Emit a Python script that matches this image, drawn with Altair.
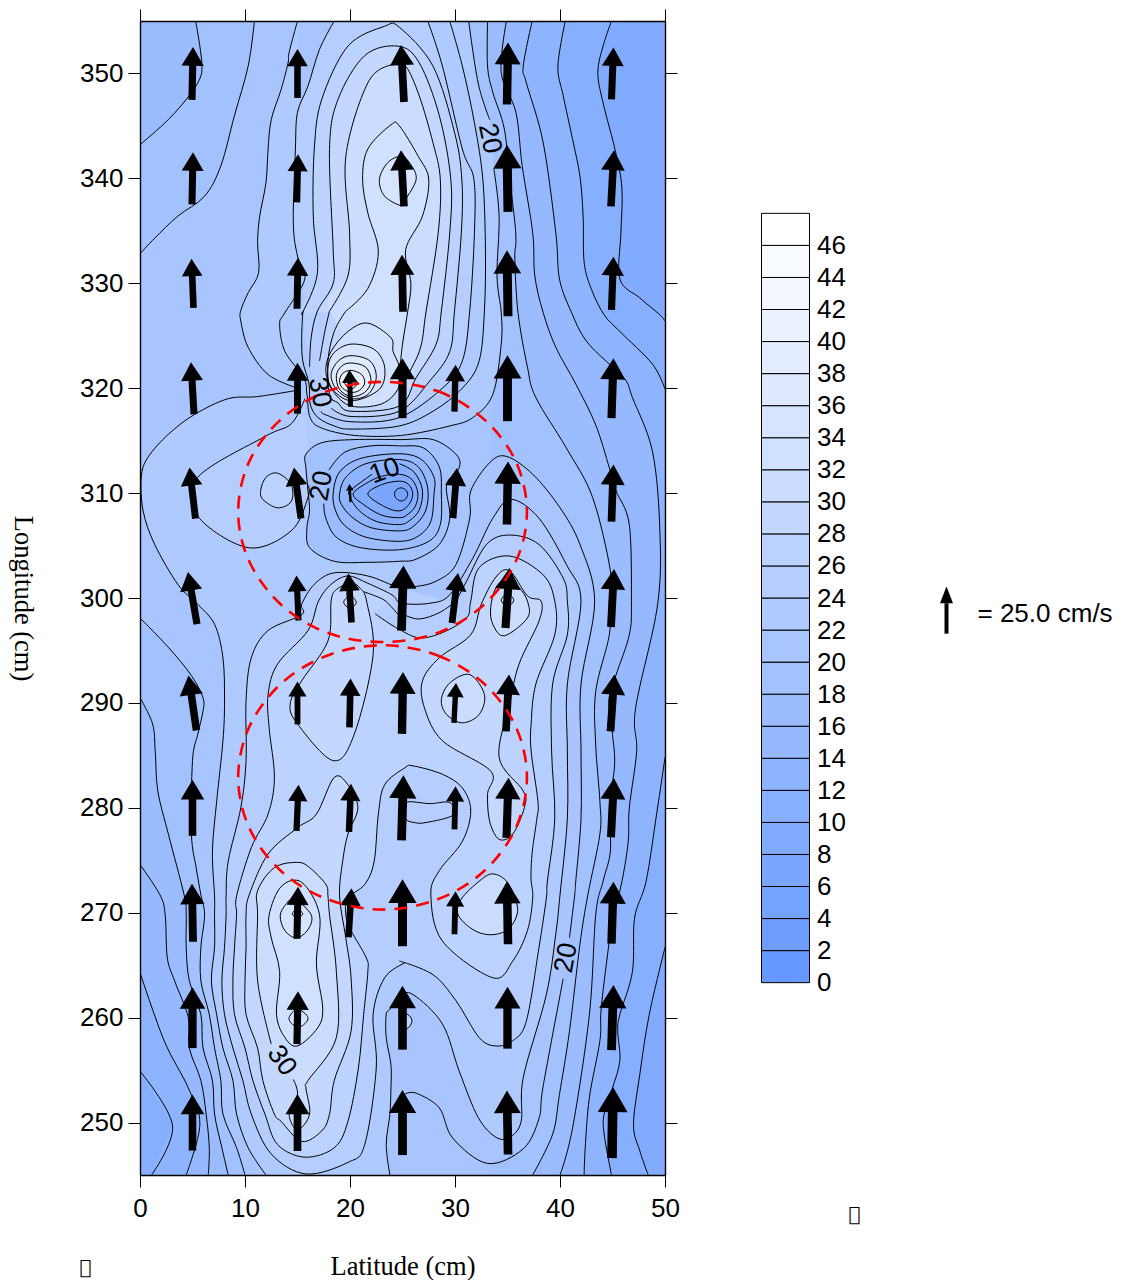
import math
import altair as alt
import pandas as pd

# ---------- contour lines (x cm, y cm) ----------
R10 = [(44.9,355),(44.1,352.6),(43.6,350.1),(44.1,347.2),(45.3,342.5),(45.9,339),(45.8,334.8),(45.7,330.4),(47.6,328.6),(49.5,327),(50,326.4)]
R10B = [(50,266.7),(48.5,260.3),(47.6,254.6),(47,249.8),(47.6,247.3),(48.4,245)]
R12 = [(40.5,355),(39.8,350.7),(40.3,347.9),(41.2,343.7),(41.9,340.2),(42.2,336.4),(42.3,332),(43,329.4),(44.2,327),(45.7,325.4),(48.8,322.3),(50,319.9)]
R12B = [(50,284.8),(49.2,279.4),(48.2,273),(47.1,269.5),(46.9,264.4),(45.7,260.3),(45.5,258.7),(45.7,255.9),(45,253.3),(44.2,250.8),(44.2,248.9),(44.9,245)]
R14 = [(37.35,355),(36.5,350.7),(36.8,349.1),(38.4,343.4),(39.6,334.8),(39.95,330.4),(41.1,327.2),(42.5,324.5),(45,322),(46.3,320.7),(46.9,319.1),(48.8,314),(49.5,306.7),(49.3,299.4),(47.2,289.5),(47.3,285.4),(46.6,280),(46.5,276.8),(45.9,273),(45,269.2),(44.4,265),(43.9,260.6),(43.8,257.8),(42.8,252.4),(42.4,247.6),(42.3,245)]
R16 = [(34.9,355),(34.4,350.1),(35.8,346.3),(36.4,341.2),(37.4,334.8),(37.6,330.7),(38.4,327.2),(39.6,323.9),(41.5,320.4),(43.4,316.5),(44.7,312.4),(45.35,310.2),(46.6,307),(46.8,299.7),(46.6,296.5),(45.35,292.7),(44.65,290.2),(45,287),(45.2,284.1),(44.7,280),(44.8,275.9),(44.1,273),(43.4,269.8),(42.8,260.3),(41.2,249.5),(40,245)]
R18 = [(33.1,355),(33.1,350.7),(33.6,348.2),(34.7,344.7),(35.2,340),(35.7,335.8),(35.8,333.9),(35.7,332.3),(36,327.2),(36.9,322),(37.7,319.1),(40.6,314.3),(43.1,309.6),(44.8,302.6),(44.7,299.7),(44.7,296.5),(43.4,291.1),(43.4,286),(43.8,280.6),(43.8,277.5),(42.65,271.7),(41.9,267),(40.9,258.7),(39.95,252.7),(39.3,248.9),(37.4,245)]
R20_TOP = [(31.3,355),(32.2,349.1),(33.3,345.6)]
R20_MID = [(33.7,340.9),(34.2,336.4),(34,330.7),(34.4,327.2),(34.4,324.2),(33.6,319.4),(31.7,317.2),(29.5,316.4),(24.9,315.5),(20.4,315.5),(17.3,316.2),(16.2,317.2),(15.9,319.4),(15.6,321),(13.8,323.5),(13.3,326.1),(13.8,327.2),(15.7,330.4),(15,332.6),(14.6,335.8),(14.8,342.8),(15,346.3),(16,348.8),(17.1,352.3),(18.5,355)]
L18A = [(5.3,355),(5.7,352.6),(5.9,350.7),(5.7,349.5),(4.7,347.9),(2.7,345.6),(0,343.2)]
L20A = [(10.9,355),(10.3,350.7),(9,346),(7.7,341.2),(6.15,338.3),(3.6,336.4),(1.4,334.3),(0,332.8)]
L22_UP = [(15,355),(14.2,352),(14.1,351),(13.45,348.5),(12.5,345.6),(12.2,342.8),(12,339.6),(11.4,336.4),(11.2,333.9),(11.3,331),(10.3,329.1),(9.6,327.4),(9.6,326.4),(10.3,323.9),(12.2,321.3),(15,320)]
BIG_LOOP = [(15,319.8),(11.2,319.2),(8.4,319),(5.2,317.5),(2.7,315.6),(0.75,313.4),(0.12,311.5),(0.3,308.3),(1.4,305.1),(3.6,301.3),(5.2,299.7),(5.5,299.4),(7.1,297.5),(7.9,294.3),(8.05,290.2),(7.9,286.4),(7.3,280.6),(6.9,275.9),(7.1,271.6),(7.1,269.8),(7.1,266.7),(6.8,263.5),(7.3,260.3),(7.9,257.1),(8.85,254),(9.2,250.8),(10.3,247.6),(12,245)]
L20B = [(0,298.1),(2.7,295.3),(4.9,292.6),(6,290.5),(6,289.2),(5.5,287),(5,284.5),(4.9,277.5),(5.35,274.3),(5.8,271.7),(6.15,269.8),(5.8,266.7),(5.8,263.5),(6.6,260.3),(7.1,257.1),(7.7,254),(7.9,250.8),(9.2,247.6),(10,245)]
L18B = [(0,290.5),(1.2,288),(1.45,285.4),(1.7,281.6),(2.7,277.5),(4.2,271.7),(4.4,269.8),(4.4,266.7),(4.7,263.5),(5.8,260.3),(6,257.1),(6.9,254),(7.1,250.8),(7.8,247.6),(8.4,245)]
L16 = [(0,274.6),(1.9,271.7),(2.4,269.8),(2.6,265.7),(3.3,263.5),(4.6,260),(4.7,257.1),(5.8,254),(6.3,250.8),(6.6,247.6),(6.5,245)]
L14 = [(0,264.3),(2.3,257.8),(4.6,253.3),(5.7,249.8),(4.4,245)]
L12 = [(0,254.9),(3.1,249.7),(1.1,245)]

P_S = [(23.8,245),(23.45,247.9),(23.8,250.8),(23.9,253.3),(23.9,255.5),(23.45,258.1),(23.45,260.3),(23.8,260.8),(24.7,262),(26,262.2),(28.8,259.4),(30.4,254.9),(32.2,250.5),(33.9,248.6),(35.2,248.6),(36.3,250.1),(36.5,254.3),(38.7,262.2),(39.6,268),(40,271.7),(40.7,279),(40.7,285.4),(40.7,291.8),(42,299.7)]
DARC_R = [(40.6,303.2),(38,307.6),(35.35,309.4),(33.6,307.6),(31.7,303.8),(29.5,300.3),(27.6,299.5),(24.9,299.5)]
DARC_L = [(24,300.3),(21.7,301.4),(19.8,302.1),(18.2,301.3),(17,299.7),(16,296.9),(13.1,293.7),(12.2,290.8),(12.3,287.6),(12.8,282.9),(12.2,279.4),(10.6,276.2),(9.2,271.6),(9.2,269.8),(9,266.7),(8.85,263.5),(9,260.3),(10,257.1),(10.75,254),(11.9,250.8),(13.1,247.9),(15.7,246.7),(18.5,247.6),(19.8,250.1),(20.8,255.2),(21.3,260.3),(21.7,264.4),(21.55,265.7),(20.1,268.3),(19.6,269.8),(19.8,271.4),(21.4,272.7),(22.3,274.9),(22.7,279.4),(23.3,282.2),(25.2,283.8),(26,284),(28.8,283.2),(30.7,281.9),(31.5,279.7),(30.7,276.8),(28.5,274),(27.7,271.7),(28.8,267.3),(33.6,263.8),(35.5,265.4),(36.9,268.3),(37.4,271.4),(37.25,273),(37.25,274.3),(37.4,276.2),(37.8,279),(37.9,280.6),(37.25,285.4),(37.25,288),(37.7,291.8),(39.5,296.5),(39.5,299.7),(38.4,302.2),(35.2,304),(32.3,302.9),(31.5,299.7),(31.1,298.1),(28.8,296.7),(26.6,296.2),(24.7,297),(23.4,297.8),(22.4,298.5)]
SADDLE_LOOP = [(21.6,299.6),(22.2,294.6),(20.4,287),(18.4,284.5),(15,288),(14.3,289.9),(15.4,292.1),(17.9,295.9),(18.2,299.7),(18.7,300.8),(20.1,301.4),(21,300.9)]
SADDLE_TAIL = [(21.3,300.6),(23.1,299.9),(23.9,299.2),(24.9,298.1),(25,298.4),(26.6,298),(28.5,298.6),(30.1,299.7)]
P_C = [(30.1,299.7),(31.1,301.6),(33,305.1),(35.2,306),(38,305.1),(40.3,301.9),(40.7,299.7),(40.7,296.5),(39.3,291.8),(39.2,285.4),(39.5,279),(38.8,273),(38.7,271.4),(38,266.7),(36.8,259.7),(35.5,257.8),(33.9,257.3),(32.3,258.1),(30.1,261.6),(27.9,264.1),(24.7,265.4)]
L24_LOW = [(25.2,265.2),(23.3,263.8),(22.2,260.3),(22.5,255.2),(21.4,247.9),(19.8,246.2),(15.8,245.1),(12.5,247),(10.6,250.8),(9.8,254),(8.85,257.1),(8.05,260.3),(7.8,263.5),(8.05,266.7),(8.2,269.8)]
E_L = [(8.2,271.6),(8.4,274.9),(9.6,280),(10.1,284.5),(10.1,290.2),(10.6,294.3),(12.2,296.9),(15.4,298.4),(15.4,299.4),(16.6,301.3),(18.5,302.4),(21.7,302.1),(24.7,301)]
E_R = [(26.3,301.1),(28.2,301.6),(30.1,303.2),(31.4,307.6),(31.5,310.2),(33.3,312.9),(34.9,313.5),(37.4,311.8),(40,308.6),(41.9,305.1),(43.3,299.7),(42,291.8),(42,285.4),(42,279),(41.5,273),(41.4,271.7),(40.9,267.6)]
E_LOW = [(40.3,263.7),(38.4,253.5),(38,250.4),(36.5,247.5),(33.1,246.1),(29.8,248.5),(28.5,251.4),(26.3,252.8),(25.2,252.7)]

# top tongue
RIGHT_22 = [(29.5,355),(30.7,350.7),(31.85,345.3),(32.65,339.9),(32.9,333.2),(32.8,327.35),(32.3,322.6),(30.7,320),(27.9,317.8),(24.7,316.4),(20.1,316.1),(18.5,316.4),(16.95,317.2),(16.2,318.5),(16.1,320.4),(15.5,322.6),(15.4,324.8),(15.5,327.2)]
ARC_A = [(16.9,331),(16.5,336.4),(16.6,342.8),(17.3,347.5),(19.8,352.6),(23.3,354.5),(24.7,354.4),(27.9,350.7),(29.95,344.4),(30.65,339.9),(30.6,334.8),(29.95,327.35),(29.5,323.5),(27.6,320.7),(24.7,317.8),(20.1,317.3),(18.2,318.1)]
ARC_A_END = [(17.1,322.6),(17.6,325.4),(18.05,327.35)]
RIGHT_24 = [(27.4,355),(28.8,350.7),(30.7,342.8),(31.8,339.9),(31.85,334.8),(31.4,327.35),(30.7,322.6),(28.8,320),(24.7,317.2),(20.1,316.8),(17.6,317.5),(17.3,317.8)]
ARC_B = [(16.15,322),(16.3,324.8),(16.9,327.35),(18.4,330),(18.4,333.2),(18.05,342.8),(18.85,347.5),(21.4,351.7),(24.6,352.6),(26.6,351),(28.5,346),(29.6,339.9),(29.5,334.8),(28.7,327.35),(28.2,324.2),(26.3,321),(24.7,318.3),(20.1,317.8),(18.85,318.6),(18.05,319.4),(17.9,322.6),(18.5,325.4),(19.6,327.35)]
ARC_C = [(18.05,327.35),(19.8,330.7),(19.96,334.8),(19.6,342.1),(21.7,349.1),(24.1,350.9),(25.3,350.7),(26.6,347.85),(27.9,343.4),(28.6,339.9),(28.4,334.8),(27.25,327.35),(26.6,323.5),(24.7,319.9)]
ARC_D = [(19.6,327.35),(21.7,329.5),(22.7,333),(21.7,336.7),(21.2,339.9),(21.7,342.8),(23.9,345.1),(24.7,345),(26.5,342.1),(27.5,339.9),(26.9,336.4),(25.3,333.2),(25.8,330),(25.5,327.35),(25,324.2),(24.7,321.3)]
PEAK_IN = [(24.9,342.1),(23.6,341.5),(22.8,339.9),(23.3,338.3),(24.9,337.4),(25.3,338),(26.3,339.9),(25.8,341.3)]

# rings of the upper peak
RING_A = [(21.7,326.2),(23.9,324.8),(24.1,323.5),(24.7,322),(24.6,320),(23,318.5),(20.1,318.3),(18.4,319.7),(17.7,321.6),(18.2,323.5),(19.8,325.4)]
RING_B = [(20.1,324.2),(22.3,323.7),(23.3,322),(22.8,319.9),(20.1,318.8),(18.2,320.1),(17.9,322),(18.5,323.4)]
RING_C = [(20.1,323.1),(21.9,322.6),(22.5,321),(21.7,319.4),(20.1,319),(18.7,319.9),(18.2,321.3),(18.9,322.6)]
RING_D = [(20.1,322.4),(21.5,322),(22,320.7),(21.4,319.6),(20.1,319.2),(19,319.9),(18.7,321.2),(19.2,322.1)]
RING_E = [(20.1,321.7),(21.1,321.3),(21.4,320.5),(20.9,319.8),(20.1,319.6),(19.3,320),(19,320.7),(19.3,321.4)]
RING_F = [(20.1,321),(20.7,320.5),(20.1,319.9),(19.5,320.5)]

# rings of the central low
LOW_0 = [(15.8,312.4),(15.8,313.7),(17.3,314.8),(20.4,315.1),(24.9,315.1),(27.9,315.1),(30.1,313.7),(30.4,312.4),(29.2,310.8),(29.5,307.6),(28.5,305.1),(26.3,303.7),(24.7,303.5),(21.7,303.4),(18.5,303.5),(16.15,304.8),(15.9,306.7),(16.15,308.3),(16,310.2)]
LOW_1 = [(18,312.2),(19.5,313.9),(22,314.5),(24.7,314.5),(27,314.3),(28.5,312.5),(28.7,310),(28.6,307),(27.5,305.4),(24.7,304.6),(21,304.8),(18.7,305.8),(17.7,307.6),(17.5,309)]
LOW_2 = [(18.4,310),(19,312),(21,313.3),(24.7,313.75),(26.8,313.2),(28,311.5),(28,309.9),(27.7,307.3),(26.5,305.9),(24.7,305.4),(21.5,305.8),(19.5,306.9),(18.6,308.4)]
LOW_3 = [(19,309.9),(19.6,311.5),(21.5,312.8),(24.7,313.2),(26.5,312.5),(27.4,310.5),(27.2,308.3),(26,306.8),(24.7,306.4),(22,306.7),(20.2,307.7),(19.2,308.9)]
LOW_4 = [(24.7,312.8),(26.1,312),(26.9,310.3),(26.6,308.4),(25.7,307.4),(24.7,307),(22.5,307.3),(20.8,308.4),(19.9,309.9),(20.2,310.4),(22.1,311.8)]
LOW_5 = [(20.3,309.9),(21.5,310.9),(23,311.6),(24.7,311.8),(25.9,311.3),(26.46,310),(26.2,308.7),(25.4,307.9),(24.7,307.65),(23,307.9),(21.3,308.9)]
LOW_6 = [(21.7,309.9),(23,310.8),(24.7,311.14),(25.6,310.8),(25.98,309.9),(25.6,308.9),(24.7,308.3),(23.3,308.7)]
LOW_7 = [(24.24,309.9),(24.4,310.3),(24.85,310.5),(25.3,310.3),(25.5,309.9),(25.3,309.45),(24.85,309.24),(24.4,309.5)]

# left lobe
LOBE = [(15.7,319),(14.4,316.6),(11.9,315.4),(5.5,311.5),(5.5,307.8),(10.3,304.8),(14.4,306.4),(16,309.6),(16,310.8)]
LOBE_IN = [(13.1,311.9),(14.4,310.8),(14.4,309.2),(13.1,308.6),(11.7,309.4),(11.5,310.3),(12,311.5)]

# plateau, lower peaks
C28 = [(10.4,271.7),(12.2,275.6),(15,278.1),(16.8,279.4),(18.5,282.9),(19.8,282.2),(20.75,280),(19.8,277.5),(19.3,274.9),(19,271.6),(19.6,267.6),(20.1,263.8),(20.1,258.7),(18.5,254),(18.05,250.8),(17.3,249.2),(15.4,248.2),(13.45,250.1),(12.8,250.8),(11.7,254),(11.2,257.1),(10.1,260.3),(10,263.5),(10.1,266.7),(10.1,269.8)]
B30_UP = [(14.6,254.1),(15,252.7),(14.2,250.8),(15,249.3),(16.15,250.8),(15.8,253.3),(16,254),(18.7,258.1),(18.7,264.4),(18.05,269.8),(17.9,271.6),(17.7,272.7),(16.15,274.3),(15,274.8),(12.8,274.3),(11.2,272.1),(11.2,269.8),(11.2,263.5),(12.5,257.5)]
A32 = [(12.3,269.8),(12.5,267.6),(13.3,264.4),(13,260.3),(13.8,258.1),(15,257.3),(16.9,259),(17.4,260.9),(16.8,265.1),(17.1,269.8),(15.4,272.9),(13.45,272.5)]
E1 = [(14.7,271.3),(16.3,269.8),(16,268.4),(14.9,267.6),(13.8,268.3),(13.35,269.7),(13.9,270.8)]
E2 = [(15,270.3),(15.5,269.9),(15,269.5),(14.5,269.9)]
E3 = [(15,260.8),(16,260),(15.4,259.2),(14.6,259.3),(14.2,260)]
PLATEAU = [(32.5,299.4),(33.9,302),(35.2,302.6),(36.9,300.2),(38.2,299.7),(38,297.8),(36.1,293.7),(35.2,289.9),(34.2,284.8),(36.5,281.6),(36.6,280),(35.5,277.5),(34.2,277),(33.3,278.7),(33.1,281.3),(33.4,283.5),(28.8,286.4),(27.1,289.5),(26.9,292.1),(28.5,294.3),(31.5,296.5)]
SMALL_35 = [(33.4,299.1),(33.6,297.5),(34.7,296.4),(36.9,298.1),(36.9,299.7),(36.1,301),(35,301.9),(33.9,301)]
DOT_35 = [(35,300.4),(35.6,299.8),(35,299.2),(34.4,299.8)]
DOT_20 = [(20,300.2),(20.6,299.6),(20,299),(19.4,299.6)]
CIRCLE_30 = [(31.4,292.7),(32.8,290.8),(32.3,288.9),(30.7,288.1),(29.2,288.9),(28.7,290.3),(29.5,291.9)]
LENS = [(25.3,280.5),(27.6,280.4),(29.5,280.5),(29.8,279.3),(27.25,278.6),(26.1,278.6),(25.3,279)]
LOOP_33 = [(32.3,273),(30.6,271.3),(30.3,269.8),(31.7,268.4),(33.3,267.9),(34.9,268.3),(35.8,269.5),(35.9,270.8),(35,272.9),(33.6,273.7)]
ARC_25 = [(24.7,260.3),(25.5,260.3),(25.9,259.7),(25.5,259),(24.7,259)]

# dashed red circles
CIRCLE_UP = [(23.1,320.6),(28.4,319.7),(32.8,317),(35.8,313),(36.85,308.2),(35.8,303.5),(32.8,299.4),(28.4,296.7),(23.1,295.8),(17.8,296.7),(13.4,299.4),(10.4,303.5),(9.35,308.2),(10.4,313),(13.4,317),(17.8,319.7)]
CIRCLE_DOWN = [(23.1,295.5),(28.4,294.5),(32.8,291.8),(35.8,287.7),(36.85,282.9),(35.8,278.1),(32.8,274),(28.4,271.3),(23.1,270.3),(17.8,271.3),(13.4,274),(10.4,278.1),(9.35,282.9),(10.4,287.7),(13.4,291.8),(17.8,294.5)]

# arrows
ARROW_X = [5,15,25,35,45, 5,15,25,35,45, 5,15,25,35,45, 5,15,20,25,30,35,45, 5,15,20,30,35,45,
           5,15,20,25,30,35,45, 5,15,20,25,30,35,45, 5,15,20,25,30,35,45, 5,15,20,25,30,35,45, 5,15,25,35,45, 5,15,25,35,45]
ARROW_Y = [350]*5 + [340]*5 + [330]*5 + [320]*7 + [310]*6 + [300]*7 + [290]*7 + [280]*7 + [270]*7 + [260]*5 + [250]*5
ARROW_U = [.1,0,-.29,.1,.19, .1,.1,-.29,-.1,.29, -.19,.1,-.1,-.1,.19, -.29,0,-.1,0,.1,0,.19, -.57,-.67,-.1,.38,.1,.19,
           -.86,-.19,-.29,.19,.57,.38,.29, -.76,0,.1,.1,.19,.29,.38, 0,.19,.19,.19,.1,.19,.29, -.1,.1,.29,0,.1,-.1,.19, 0,.1,0,0,.19, 0,0,0,-.1,.1]
ARROW_V = [5.05,4.67,5.43,5.91,4.96, 4.96,4.58,5.34,6.39,5.34, 4.67,4.86,5.43,6.29,5.05, 4.96,4.86,3.53,5.72,4.48,6.29,5.72, 4.86,4.86,1.72,4.77,6.0,5.43,
           4.96,4.29,4.67,6.2,4.77,5.72,5.53, 5.24,4.1,4.67,5.91,3.81,5.43,5.43, 5.34,4.38,4.58,6.2,4.1,5.72,5.62, 5.53,4.96,4.67,6.39,4.1,6.0,5.91, 5.81,5.05,6.1,5.91,6.2, 5.34,5.43,6.2,6.1,6.77]

# contour labels
LABEL_X = [17.1,33.3,17.3,23.3,40.6,13.5]
LABEL_Y = [319.6,343.8,310.7,312.1,265.7,255.9]
LABEL_TEXT = ["30","20","20","10","20","30"]
LABEL_ANGLE = [80,78,280,340,280,55]

# colour key
KEY_LEVELS = list(range(0,48,2))
KEY_TICKS = list(range(0,48,2))

FONT = "Liberation Sans"
SERIF = "Liberation Serif"
BLACK = "#000000"

def band_colour(k):
    t = k/23
    return "#%02x%02x%02x" % (round(102+153*t), round(153+102*t), 255)

# polygons painted in order: (points, band)
CORNER_TR, CORNER_BR, CORNER_BL, CORNER_TL = (50,355), (50,245), (0,245), (0,355)
FILLS_STRAIGHT = [
    ([CORNER_BL,CORNER_BR,CORNER_TR,CORNER_TL], 10),
    (R20_TOP+[(33.6,319.4)]+E_R[5:]+E_LOW[:5]+[(33.1,245),CORNER_BR,CORNER_TR], 9),
    (R18+[CORNER_BR,CORNER_TR], 8), (R16+[CORNER_BR,CORNER_TR], 7), (R14+[CORNER_BR,CORNER_TR], 6),
    (R12+[CORNER_TR], 5), (R12B+[CORNER_BR], 5), (R10+[CORNER_TR], 4), (R10B+[CORNER_BR], 4),
    (L20A+[CORNER_TL], 9), (L18A+[CORNER_TL], 8),
    (L20B+[CORNER_BL], 9), (L18B+[CORNER_BL], 8), (L16+[CORNER_BL], 7), (L14+[CORNER_BL], 6), (L12+[CORNER_BL], 5),
    (L22_UP+BIG_LOOP+P_S+DARC_R+[(24.7,316),(16,330)], 11),
    (R20_TOP+R20_MID, 11),
    (RIGHT_24[:-1]+[(17.3,317.8),(16.15,322),(15.5,327.2),(15.7,330.4),(15,332.6),(14.6,335.8),(14.8,342.8),(15,346.3),(16,348.8),(17.1,352.3),(18.5,355)], 12),
]
FILLS_SMOOTH = [
    (LOBE, 12), (LOBE_IN, 13),
    ([(15.5,327.2)]+ARC_A+ARC_A_END, 13),
    (ARC_B[2:], 14),
    (ARC_C, 15), (ARC_D, 16), (PEAK_IN, 17),
    (LOW_0,9),(LOW_1,8),(LOW_2,7),(LOW_3,6),(LOW_4,5),(LOW_5,4),(LOW_6,3),(LOW_7,2),
    (RING_A,16),(RING_B,17),(RING_C,18),(RING_D,19),(RING_E,20),(RING_F,21),
    (L24_LOW+E_L+P_C, 12),
    (DARC_L, 13),
    (LENS, 12),
    (C28,14),(PLATEAU,14),(SADDLE_LOOP,14),
    (CIRCLE_30,15),(SMALL_35,15),(DOT_35,16),(DOT_20,15),(LOOP_33,15),(ARC_25,14),
    (B30_UP,15),(A32,16),(E1,17),(E2,18),(E3,17),
]
OPEN_LINES = [R10,R10B,R12,R12B,R14,R16,R18,R20_TOP,R20_MID,L18A,L20A,L22_UP,BIG_LOOP,L20B,L18B,L16,L14,L12,
              P_S+DARC_R+DARC_L,SADDLE_TAIL,P_C,L24_LOW+E_L+E_R,E_LOW,
              RIGHT_22+[(15.5,327.2)]+ARC_A,ARC_A_END,RIGHT_24,ARC_B,ARC_C,ARC_D,B30_UP]
CLOSED_LINES = [PEAK_IN,RING_A,RING_B,RING_C,RING_D,RING_E,RING_F,LOW_0,LOW_2,LOW_3,LOW_5,LOW_6,LOW_7,LOBE_IN,
                C28,A32,E1,E2,E3,PLATEAU,SMALL_35,DOT_35,DOT_20,CIRCLE_30,LENS,LOOP_33,SADDLE_LOOP]
OPEN_LINES += [LOW_1,LOW_4,LOBE,ARC_25]

def table(groups, colours=None):
    rows = []
    for g, pts in enumerate(groups):
        for i, (x, y) in enumerate(pts):
            row = {"x": x, "y": y, "g": g, "i": i}
            if colours:
                row["c"] = colours[g]
            rows.append(row)
    return pd.DataFrame(rows)

X = alt.X("x:Q", scale=alt.Scale(domain=[0,50], nice=False, zero=False), axis=None)
Y = alt.Y("y:Q", scale=alt.Scale(domain=[245,355], nice=False, zero=False), axis=None)

def fill_layer(items, interp):
    df = table([p for p,_ in items], [band_colour(k) for _,k in items])
    return alt.Chart(df).mark_line(interpolate=interp, strokeWidth=0, strokeOpacity=0, clip=True).encode(
        x=X, y=Y, order="i:Q", detail="g:N", fill=alt.Fill("c:N", scale=None))

def line_layer(groups, interp="cardinal"):
    return alt.Chart(table(groups)).mark_line(color=BLACK, strokeWidth=1, interpolate=interp, clip=True).encode(
        x=X, y=Y, order="i:Q", detail="g:N")

# axes
axis_common = dict(domainColor=BLACK, tickColor=BLACK, domainWidth=1.4, tickWidth=1, tickSize=12, grid=False,
                   zindex=1, labelFont=FONT, labelFontSize=26, labelColor=BLACK, labelFlush=False)
frame_df = pd.DataFrame({"x":[0],"y":[245]})
frame_main = alt.Chart(frame_df).mark_point(opacity=0).encode(
    x=alt.X("x:Q", scale=alt.Scale(domain=[0,50], nice=False, zero=False),
            axis=alt.Axis(orient="bottom", values=list(range(0,60,10)), title="Latitude (cm)", titleFont=SERIF, titleFontSize=26.5,
                          titleFontWeight="normal", titleColor=BLACK, titlePadding=32, labelPadding=8, **axis_common)),
    y=alt.Y("y:Q", scale=alt.Scale(domain=[245,355], nice=False, zero=False),
            axis=alt.Axis(orient="left", values=list(range(250,360,10)), title="Longitude (cm)", titleFont=SERIF, titleFontSize=26.5,
                          titleFontWeight="normal", titleColor=BLACK, titleAngle=90, titlePadding=71.5, labelPadding=5, **axis_common)))
frame_other = alt.Chart(frame_df).mark_point(opacity=0).encode(
    x=alt.X("x:Q", scale=alt.Scale(domain=[0,50], nice=False, zero=False),
            axis=alt.Axis(orient="top", values=list(range(0,60,10)), labels=False, title=None, **axis_common)),
    y=alt.Y("y:Q", scale=alt.Scale(domain=[245,355], nice=False, zero=False),
            axis=alt.Axis(orient="right", values=list(range(250,360,10)), labels=False, title=None, **axis_common)))

# arrows
rows = []
for x,y,u,v in zip(ARROW_X,ARROW_Y,ARROW_U,ARROW_V):
    length = math.hypot(u,v)*10.5
    head = length*0.42
    ux, uy = u/math.hypot(u,v), v/math.hypot(u,v)
    tipx, tipy = x+u/2, y+v/2
    neck = head*0.84/10.5
    rows.append(dict(x=x-u/2, y=y-v/2, x2=tipx-ux*neck*0.9, y2=tipy-uy*neck*0.9, tx=tipx, ty=tipy,
                     sw=length*0.135, size=head*head, ang=(math.degrees(math.atan2(u,v))+360)%360))
arrows = pd.DataFrame(rows)
shafts = alt.Chart(arrows).mark_rule(color=BLACK).encode(
    x=X, y=Y, x2="x2:Q", y2="y2:Q", strokeWidth=alt.StrokeWidth("sw:Q", scale=None))
heads = alt.Chart(arrows).mark_point(shape="M0,0L-1,1.68L1,1.68Z", filled=True, color=BLACK, opacity=1, strokeWidth=0).encode(
    x=alt.X("tx:Q", scale=alt.Scale(domain=[0,50], nice=False, zero=False), axis=None),
    y=alt.Y("ty:Q", scale=alt.Scale(domain=[245,355], nice=False, zero=False), axis=None),
    size=alt.Size("size:Q", scale=None), angle=alt.Angle("ang:Q", scale=None))

red = alt.Chart(table([CIRCLE_UP,CIRCLE_DOWN])).mark_line(color="#ff0000", strokeWidth=2.6, strokeDash=[13,9], interpolate="cardinal-closed").encode(
    x=X, y=Y, order="i:Q", detail="g:N")

labels = alt.Chart(pd.DataFrame({"x":LABEL_X,"y":LABEL_Y,"t":LABEL_TEXT,"a":LABEL_ANGLE})).mark_text(
    font=FONT, fontSize=27, color=BLACK, align="center", baseline="middle").encode(
    x=X, y=Y, text="t:N", angle=alt.Angle("a:Q", scale=None))

tofu_main = alt.Chart(pd.DataFrame({"x":[-5.2],"y":[236.1],"t":["\uE000"]})).mark_text(
    font="DejaVu Sans", fontSize=20, color=BLACK, align="center", baseline="middle").encode(x=X, y=Y, text="t:N")

main = alt.layer(
    fill_layer(FILLS_STRAIGHT, "linear"),
    fill_layer(FILLS_SMOOTH, "cardinal-closed"),
    line_layer(OPEN_LINES),
    line_layer(CLOSED_LINES, "cardinal-closed"),
    shafts, heads, red, labels, tofu_main, frame_main, frame_other,
).resolve_axis(x="independent", y="independent").properties(width=525, height=1154)

# colour key panel
key_df = pd.DataFrame({"lo":KEY_LEVELS, "hi":[v+2 for v in KEY_LEVELS], "c":[band_colour(i) for i in range(len(KEY_LEVELS))]})
key_y = alt.Scale(domain=[-12,60], nice=False, zero=False)
key_rect = alt.Chart(key_df).mark_rect(stroke=BLACK, strokeWidth=1).encode(
    x=alt.value(0), x2=alt.value(48),
    y=alt.Y("lo:Q", scale=key_y, axis=alt.Axis(orient="right", values=KEY_TICKS, title=None, domain=False, ticks=False, grid=False,
                                                labelFont=FONT, labelFontSize=26, labelColor=BLACK, labelPadding=7, labelFlush=False)),
    y2="hi:Q", fill=alt.Fill("c:N", scale=None))
key_tofu = alt.Chart(pd.DataFrame({"y":[-14.5],"t":["\uE000"]})).mark_text(
    font="DejaVu Sans", fontSize=20, color=BLACK, align="center", baseline="middle").encode(
    x=alt.value(93), y=alt.Y("y:Q", scale=key_y), text="t:N")
key = alt.layer(key_rect, key_tofu).properties(width=48, height=1154)

# speed scale panel
sx = alt.Scale(domain=[0,210], nice=False, zero=False)
sy = alt.Scale(domain=[245,355], nice=False, zero=False)
speed_shaft = alt.Chart(pd.DataFrame({"x":[40.5],"y":[296.6],"y2":[299.5]})).mark_rule(color=BLACK, strokeWidth=4).encode(
    x=alt.X("x:Q", scale=sx, axis=None), y=alt.Y("y:Q", scale=sy, axis=None), y2="y2:Q")
speed_head = alt.Chart(pd.DataFrame({"x":[40.5],"y":[301.1],"s":[169]})).mark_point(
    shape="M0,0L-1,2.6L1,2.6Z", filled=True, color=BLACK, opacity=1, strokeWidth=0).encode(
    x=alt.X("x:Q", scale=sx, axis=None), y=alt.Y("y:Q", scale=sy, axis=None), size=alt.Size("s:Q", scale=None))
speed_text = alt.Chart(pd.DataFrame({"x":[71.5],"y":[298.5],"t":["= 25.0 cm/s"]})).mark_text(
    font=FONT, fontSize=26, color=BLACK, align="left", baseline="middle").encode(
    x=alt.X("x:Q", scale=sx, axis=None), y=alt.Y("y:Q", scale=sy, axis=None), text="t:N")
speed = alt.layer(speed_shaft, speed_head, speed_text).properties(width=210, height=1154)

chart = alt.hconcat(main, key, speed, spacing=96.5).properties(
    bounds="flush", padding={"left":0,"top":0,"right":0,"bottom":0}).configure_view(stroke=None)
chart.save("out.html", embed_options={"renderer": "svg", "actions": False})
